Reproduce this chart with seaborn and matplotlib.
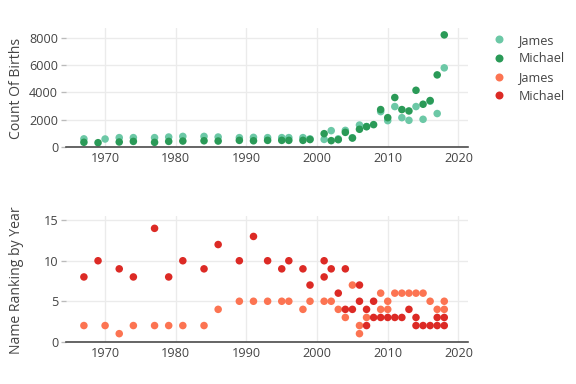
import seaborn as sns
import pandas as pd
import matplotlib.pyplot as plt
from matplotlib.lines import Line2D

# births per year (top panel)
james_count_years = [1967, 1970, 1972, 1974, 1977, 1979, 1981, 1984, 1986, 1989, 1991, 1993,
                     1995, 1996, 1998, 1999, 2001, 2002, 2003, 2004, 2005, 2006, 2007, 2009,
                     2010, 2011, 2012, 2013, 2014, 2015, 2016, 2017, 2018]
james_counts = [600, 590, 690, 690, 690, 735, 780, 780, 735, 690, 710, 690,
                690, 690, 690, 600, 560, 1200, 600, 1220, 680, 1610, 1500, 2590,
                1930, 2960, 2150, 1955, 2960, 2030, 3350, 2450, 5790]
michael_count_years = [1967, 1969, 1972, 1974, 1977, 1979, 1981, 1984, 1986, 1989, 1991, 1993,
                       1995, 1996, 1998, 1999, 2001, 2002, 2003, 2004, 2005, 2006, 2007, 2008,
                       2009, 2010, 2011, 2012, 2013, 2014, 2015, 2016, 2017, 2018]
michael_counts = [350, 320, 370, 415, 345, 415, 440, 460, 440, 490, 460, 490,
                  490, 490, 490, 550, 980, 470, 540, 1075, 660, 1300, 1490, 1640,
                  2740, 2150, 3620, 2740, 2640, 4150, 3130, 3400, 5275, 8200]

# ranking per year (bottom panel)
james_rank_years = [1967, 1970, 1972, 1974, 1977, 1979, 1981, 1984, 1986, 1989, 1991, 1993,
                    1995, 1996, 1998, 1999, 2001, 2002, 2003, 2004, 2005, 2006, 2006, 2007,
                    2009, 2009, 2010, 2010, 2011, 2012, 2013, 2014, 2015, 2016, 2017, 2018, 2018]
james_ranks = [2, 2, 1, 2, 2, 2, 2, 2, 4, 5, 5, 5,
               5, 5, 4, 5, 5, 5, 4, 3, 7, 2, 1, 3,
               6, 4, 5, 4, 6, 6, 6, 6, 6, 5, 4, 5, 4]
michael_rank_years = [1967, 1969, 1972, 1974, 1977, 1979, 1981, 1984, 1986, 1989, 1991, 1993,
                      1995, 1996, 1998, 1999, 2001, 2001, 2002, 2003, 2004, 2004, 2005, 2006,
                      2006, 2007, 2007, 2008, 2008, 2009, 2010, 2011, 2012, 2013, 2014, 2014,
                      2015, 2016, 2017, 2017, 2018, 2018]
michael_ranks = [8, 10, 9, 8, 14, 8, 10, 9, 12, 10, 13, 10,
                 9, 10, 9, 7, 10, 8, 9, 6, 9, 4, 4, 7,
                 5, 4, 2, 5, 3, 3, 3, 3, 3, 4, 3, 2,
                 2, 2, 3, 2, 3, 2]

colors = {'James': '#6cc8a6', 'Michael': '#2a9a57'}
colors_rank = {'James': '#fc7452', 'Michael': '#dc2a25'}

count_df = pd.concat([
    pd.DataFrame({'Year': james_count_years, 'Count': james_counts, 'Name': 'James'}),
    pd.DataFrame({'Year': michael_count_years, 'Count': michael_counts, 'Name': 'Michael'}),
])
rank_df = pd.concat([
    pd.DataFrame({'Year': james_rank_years, 'Rank': james_ranks, 'Name': 'James'}),
    pd.DataFrame({'Year': michael_rank_years, 'Rank': michael_ranks, 'Name': 'Michael'}),
])

sns.set_style('whitegrid')
plt.rcParams['font.family'] = ['Open Sans', 'DejaVu Sans']
text_color = '#444444'

fig = plt.figure(figsize=(6, 4), dpi=96)
ax1 = fig.add_axes([0.115, 0.617, 0.698, 0.310])
ax2 = fig.add_axes([0.115, 0.110, 0.698, 0.327])

sns.scatterplot(data=count_df, x='Year', y='Count', hue='Name', palette=colors,
                s=32, linewidth=0, legend=False, ax=ax1)
sns.scatterplot(data=rank_df, x='Year', y='Rank', hue='Name', palette=colors_rank,
                s=32, linewidth=0, legend=False, ax=ax2)

for ax, ylabel, ylim, yticks in [(ax1, 'Count Of Births', (0, 8700), [0, 2000, 4000, 6000, 8000]),
                                 (ax2, 'Name Ranking by Year', (0, 15.5), [0, 5, 10, 15])]:
    ax.set_xlim(1964.5, 2021.4)
    ax.set_ylim(*ylim)
    ax.set_xticks([1970, 1980, 1990, 2000, 2010, 2020])
    ax.set_yticks(yticks)
    ax.set_xlabel('')
    ax.set_ylabel(ylabel, fontsize=10.5, color=text_color)
    ax.yaxis.set_label_coords(-0.105, 0.49)
    ax.grid(True, color='#ebebeb', linewidth=1)
    for side in ['top', 'right', 'left']:
        ax.spines[side].set_visible(False)
    ax.spines['bottom'].set_color('#444444')
    ax.spines['bottom'].set_linewidth(1.2)
    ax.tick_params(axis='y', length=4, width=1, color='#bbbbbb', pad=2,
                   labelsize=9.5, labelcolor=text_color, left=True)
    ax.tick_params(axis='x', length=0, pad=4, labelsize=9.5, labelcolor=text_color)
    ax.set_axisbelow(True)

handles = [Line2D([], [], marker='o', linestyle='', markersize=6, markeredgewidth=0, color=c)
           for c in [colors['James'], colors['Michael'], colors_rank['James'], colors_rank['Michael']]]
fig.legend(handles, ['James', 'Michael', 'James', 'Michael'], loc='upper left',
           bbox_to_anchor=(0.825, 0.942), frameon=False, fontsize=9.5,
           labelcolor=text_color, handletextpad=0.5, labelspacing=0.45)

fig.savefig('out.png', dpi=96)
